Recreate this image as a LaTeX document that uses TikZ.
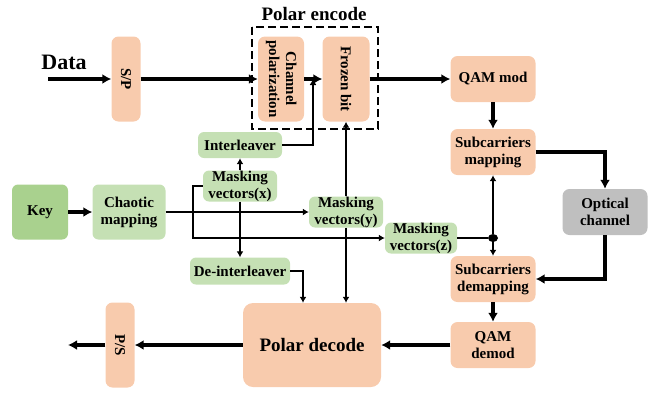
\documentclass[tikz,border=0pt]{standalone}
\usepackage{fontspec}
\setmainfont{Liberation Serif}
\usepackage{graphicx}
\usetikzlibrary{arrows.meta,shapes.geometric}
\definecolor{peach}{HTML}{F8CBAD}
\definecolor{leaf}{HTML}{C5E0B4}
\definecolor{keygreen}{HTML}{A9D18E}
\definecolor{fog}{HTML}{BFBFBF}

\begin{document}
\begin{tikzpicture}[x=1pt,y=-1pt,
    font=\bfseries\fontsize{15}{17}\selectfont,
    block/.style ={rounded corners=7pt, fill=peach, inner sep=0pt, align=center, minimum width=85pt, minimum height=46pt},
    tallblock/.style ={block, minimum height=85pt},
    mask/.style ={rounded corners=6pt, fill=leaf, inner sep=0pt, align=center, minimum height=31pt},
    sig/.style ={line width=3.2pt, -{Latex[length=9pt,width=10pt]}},
    ctl/.style ={line width=1.8pt, -{Latex[length=6pt,width=7pt]}}]
   \useasboundingbox (0,0) rectangle (658,392);
   % transmitter
   \node (data) at (64,62) {\fontsize{22}{24}\selectfont Data};
   \coordinate (datain) at (48,79);
   \node[tallblock, minimum width=29pt] (sp) at (126,79) {\rotatebox{-90}{S/P}};
   \node[tallblock, minimum width=46pt] (chan) at (281,79)
      {\rotatebox{-90}{\begin{tabular}{@{}c@{}}Channel\\polarization\end{tabular}}};
   \node[tallblock, minimum width=47pt] (frozen) at (346,79) {\rotatebox{-90}{Frozen bit}};
   \draw[line width=1.8pt, dash pattern=on 8pt off 4pt] (252,27) rectangle (378,129);
   \node (enc) at (314,14) {\fontsize{19}{21}\selectfont Polar encode};
   \node[block] (qammod) at (493,79) {QAM mod};
   \node[block] (submap) at (493,152) {Subcarriers\\mapping};
   \node[block, fill=fog] (optical) at (605,212) {Optical\\channel};
   % receiver
   \node[block] (subdemap) at (493,279) {Subcarriers\\demapping};
   \node[block] (qamdemod) at (493,345) {QAM\\demod};
   \node[block, minimum width=138pt, minimum height=84pt, rounded corners=10pt] (polardec) at (312,345)
      {\fontsize{19}{21}\selectfont Polar decode};
   \node[tallblock, minimum width=29pt] (ps) at (120,345) {\rotatebox{-90}{P/S}};
   \coordinate (dataout) at (68,345);
   % key and masking
   \node[mask, fill=keygreen, minimum width=56pt, minimum height=55pt] (key) at (40,212) {Key};
   \node[mask, minimum width=73pt, minimum height=55pt] (chaotic) at (129,212) {Chaotic\\mapping};
   \node[mask, minimum width=84pt, minimum height=26pt] (inter) at (240,145) {Interleaver};
   \node[mask, minimum width=74pt] (mx) at (240,186) {Masking\\vectors(x)};
   \node[mask, minimum width=74pt] (my) at (346,212) {Masking\\vectors(y)};
   \node[mask, minimum width=72pt] (mz) at (421,238) {Masking\\vectors(z)};
   \node[mask, minimum width=100pt, minimum height=27pt] (deint) at (240,271) {De-interleaver};
   \node[ellipse, fill, inner sep=0pt, minimum width=10pt, minimum height=8pt] (dot) at (493,238) {};
   \coordinate (join) at (313,79);
   % main path
   \draw[sig] (datain) to (sp);
   \draw[sig] (sp) to (chan);
   \draw[sig] (chan) to (frozen);
   \draw[sig] (frozen) to (qammod);
   \draw[sig] (qammod) to (submap);
   \draw[sig] (submap.east) -| (optical.north);
   \draw[sig] (optical.south) |- (subdemap.east);
   \draw[sig] (subdemap) to (qamdemod);
   \draw[sig] (qamdemod) to (polardec);
   \draw[sig] (polardec) to (ps);
   \draw[sig] (ps) to (dataout);
   \draw[sig] (key) to (chaotic);
   % masking lines
   \draw[ctl] (chaotic) to (my);
   \draw[ctl] (mx) to (inter);
   \draw[ctl] (mx.south) to (deint.north);
   \draw[ctl] (mx.west) -- ++(-10,0) |- (mz.west);
   \draw[ctl, line width=2.4pt] (inter.east) -| (join);
   \draw[ctl] (my.north) to (frozen.south);
   \draw[ctl] (my.south) to (polardec.north -| my);
   \draw[line width=1.8pt] (mz.east) to (dot);
   \draw[ctl] (dot) to (submap.south);
   \draw[ctl] (dot) to (subdemap.north);
   \draw[ctl] (deint.east) -| ([xshift=-9pt]polardec.north);
 \end{tikzpicture}
\end{document}
